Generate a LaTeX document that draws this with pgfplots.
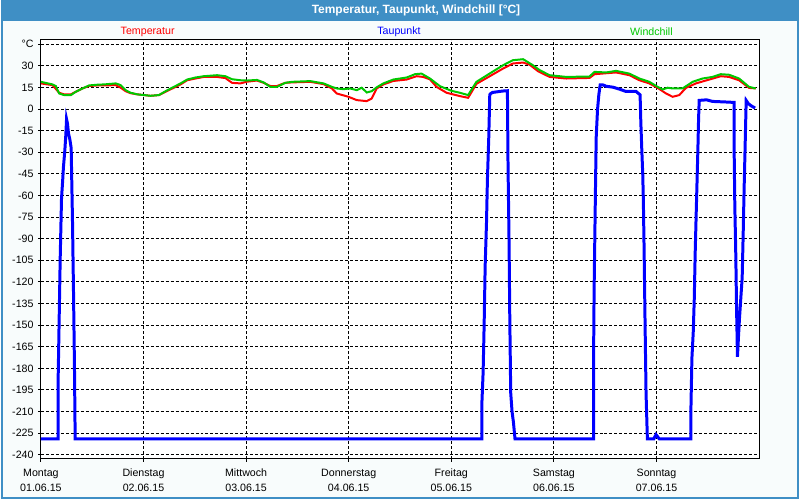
\documentclass[border=0pt]{standalone}
\usepackage{fontspec}
\setmainfont{Liberation Sans}
\usepackage{pgfplots}
\pgfplotsset{compat=1.18}
\definecolor{barblue}{RGB}{63,143,197}
\definecolor{bodybg}{RGB}{248,252,252}
\definecolor{wgreen}{RGB}{0,200,0}
\begin{document}
\begin{tikzpicture}
\begin{scope}[x=0.75pt,y=0.75pt]
\fill[bodybg] (0,0) rectangle (800,500);
\fill[barblue] (0,479) rectangle (800,500);
\draw[barblue,line width=1.5pt] (0.75,0) -- (0.75,480);
\draw[barblue,line width=1.5pt] (799.25,0) -- (799.25,480);
\draw[barblue,line width=1.5pt] (0,0.75) -- (800,0.75);
\node[white,font=\bfseries\fontsize{9}{10}\selectfont] at (416,489.5) {Temperatur, Taupunkt, Windchill [°C]};
\node[red,font=\fontsize{8}{9}\selectfont] at (147,468) {Temperatur};
\node[blue,font=\fontsize{8}{9}\selectfont] at (399,468) {Taupunkt};
\node[wgreen,font=\fontsize{8}{9}\selectfont] at (652,468) {Windchill};
\end{scope}
\begin{axis}[
  at={(30pt,30pt)}, anchor=south west,
  scale only axis, width=540pt, height=315pt,
  xmin=0, xmax=7, ymin=-242.8, ymax=48,
  axis background/.style={fill=white},
  axis line style={black,line width=0.75pt},
  tick style={black,line width=0.75pt},
  major tick length=2pt, tick align=outside, tick pos=left,
  grid=major,
  major grid style={black,line width=0.75pt,dash pattern=on 2.25pt off 1.5pt},
  xtick={0,1,2,3,4,5,6},
  xticklabels={{Montag\\01.06.15},{Dienstag\\02.06.15},{Mittwoch\\03.06.15},{Donnerstag\\04.06.15},{Freitag\\05.06.15},{Samstag\\06.06.15},{Sonntag\\07.06.15}},
  xticklabel style={align=center,font=\fontsize{8}{11.25}\selectfont,yshift=-2pt},
  ytick={-240,-225,-210,-195,-180,-165,-150,-135,-120,-105,-90,-75,-60,-45,-30,-15,0,15,30,45},
  yticklabels={-240,-225,-210,-195,-180,-165,-150,-135,-120,-105,-90,-75,-60,-45,-30,-15,0,15,30,°C},
  yticklabel style={font=\fontsize{8}{9}\selectfont},
]
\addplot[blue,line width=2.25pt,mark=none] coordinates {
(0,-229) (0.168,-229) (0.168,-188) (0.178,-146) (0.188,-104) (0.201,-62) (0.211,-51) (0.220,-40) (0.233,-29) (0.243,-18) (0.250,-7) (0.259,-10) (0.269,-17) (0.282,-21) (0.295,-27) (0.308,-78) (0.318,-128) (0.327,-178) (0.334,-229)
(4.297,-229) (4.297,-206) (4.310,-183) (4.320,-150) (4.330,-109) (4.343,-79) (4.352,-49) (4.365,-20) (4.375,10) (4.38,10.5) (4.40,11.5) (4.45,12) (4.50,12.5) (4.547,12.7) (4.553,-40) (4.563,-93) (4.570,-145) (4.579,-197) (4.592,-210) (4.605,-217) (4.621,-229)
(5.386,-229) (5.386,-178) (5.392,-125) (5.402,-72) (5.412,-20) (5.425,-0.5) (5.438,10) (5.451,16.8) (5.477,16.8) (5.51,15.8) (5.574,15.2) (5.64,13.8) (5.703,12.2) (5.801,12.2) (5.840,9.9) (5.847,-8.6) (5.856,-27) (5.866,-45.5) (5.872,-64) (5.879,-97) (5.888,-146) (5.898,-197) (5.911,-229) (5.973,-229) (5.995,-226) (6.028,-229) (6.335,-229) (6.335,-210) (6.345,-173) (6.358,-155) (6.368,-132) (6.377,-100) (6.390,-64) (6.403,-29) (6.410,-7) (6.416,6.0) (6.488,6.4) (6.546,5.3) (6.676,4.9) (6.757,4.6) (6.757,-30) (6.763,-66) (6.773,-102) (6.780,-137) (6.789,-172) (6.799,-158) (6.809,-145) (6.822,-131) (6.835,-117) (6.845,-86) (6.854,-55) (6.864,-25) (6.874,6.0) (6.896,3.7) (6.919,2.4) (6.961,0.7)
};
\addplot[red,line width=1.5pt,mark=none] coordinates {
(0.000,17.8) (0.113,16.6) (0.178,11.3) (0.227,10.2) (0.292,10.2) (0.340,12.0) (0.405,14.3) (0.470,16.0) (0.551,16.4) (0.616,16.4) (0.729,16.6) (0.778,14.8) (0.826,12.4) (0.875,11.0) (0.940,10.2) (1.005,9.7) (1.069,9.2) (1.150,9.7) (1.215,12.0) (1.296,14.8) (1.361,17.1) (1.426,20.0) (1.507,21.2) (1.588,22.3) (1.717,22.3) (1.798,21.5) (1.863,18.2) (1.944,17.8) (2.009,19.0) (2.106,19.8) (2.171,18.2) (2.236,16.0) (2.301,16.0) (2.382,18.2) (2.447,18.5) (2.625,18.9) (2.755,17.3) (2.836,14.3) (2.884,10.8) (2.998,8.5) (3.079,6.2) (3.176,5.5) (3.224,7.3) (3.273,14.3) (3.338,17.1) (3.435,19.5) (3.565,20.5) (3.662,22.8) (3.726,22.3) (3.792,20.6) (3.856,15.4) (3.954,11.3) (4.083,9.0) (4.164,7.8) (4.245,17.5) (4.375,22.8) (4.504,28.1) (4.600,31.6) (4.700,32.3) (4.763,30.8) (4.845,26.3) (4.958,22.3) (5.120,21.2) (5.347,21.6) (5.396,24.2) (5.606,25.4) (5.736,23.5) (5.833,20.0) (5.930,17.8) (6.011,14.7) (6.093,10.8) (6.157,8.5) (6.222,9.7) (6.287,14.7) (6.384,17.8) (6.481,19.8) (6.627,22.8) (6.708,22.3) (6.805,20.0) (6.902,14.7) (6.967,14.3)
};
\addplot[wgreen,line width=1.5pt,mark=none] coordinates {
(0.000,18.9) (0.113,17.1) (0.145,16) (0.178,10.8) (0.227,9.7) (0.292,9.7) (0.340,12.0) (0.405,14.3) (0.470,16.4) (0.551,16.9) (0.616,17.1) (0.729,17.8) (0.778,16.6) (0.826,13.1) (0.875,11.3) (0.940,10.2) (1.005,9.7) (1.069,9.2) (1.150,9.7) (1.215,12.4) (1.296,15.4) (1.361,17.8) (1.426,20.5) (1.507,21.9) (1.588,22.8) (1.717,23.5) (1.798,22.8) (1.863,20.7) (1.944,20.0) (2.009,19.8) (2.106,20.2) (2.171,18.5) (2.236,15.4) (2.301,15.4) (2.382,18.2) (2.447,18.9) (2.625,19.4) (2.755,17.8) (2.836,15.4) (2.884,14.3) (2.949,13.8) (3.014,14.3) (3.079,13.1) (3.127,14.8) (3.176,11.5) (3.224,12.4) (3.273,15.1) (3.338,17.8) (3.435,20.5) (3.565,21.9) (3.646,24.2) (3.710,24.6) (3.792,21.2) (3.889,15.9) (4.000,12.7) (4.083,11.3) (4.164,9.7) (4.245,18.9) (4.375,24.7) (4.504,30.4) (4.600,33.9) (4.700,34.6) (4.796,30.4) (4.861,27.0) (4.958,23.5) (5.120,22.3) (5.347,22.6) (5.396,25.8) (5.509,25.4) (5.606,26.5) (5.736,24.6) (5.833,21.2) (5.930,18.9) (6.011,15.4) (6.060,13.6) (6.109,14.8) (6.157,14.3) (6.254,14.3) (6.352,18.9) (6.449,21.2) (6.546,22.3) (6.627,24.2) (6.708,23.8) (6.805,21.2) (6.902,15.4) (6.967,14.3)
};
\end{axis}
\end{tikzpicture}
\end{document}
